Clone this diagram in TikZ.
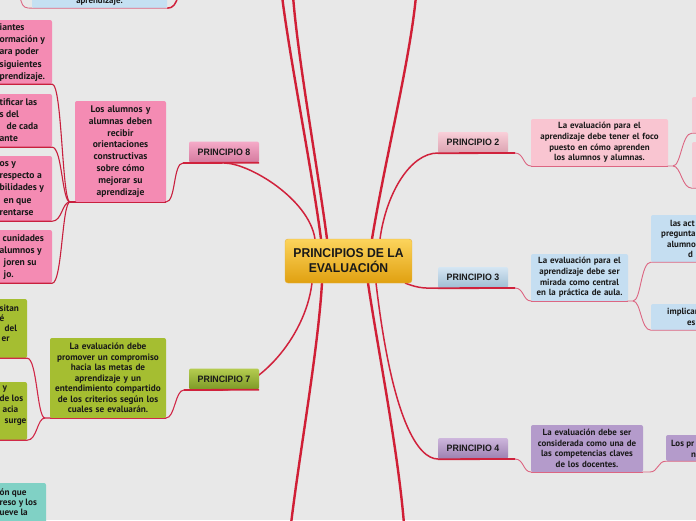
\documentclass[tikz,border=0pt]{standalone}
\usepackage{fontspec}
\setmainfont{PT Sans}
\newfontfamily\labfont[FakeStretch=0.95]{Liberation Sans}
\newfontfamily\ctrfont[FakeStretch=0.95]{Liberation Sans}
\usetikzlibrary{calc}
\definecolor{bgc}{HTML}{E8E8E8}
\definecolor{mainred}{HTML}{D01F36}
\definecolor{pred}{HTML}{D0223C}
\definecolor{red8}{HTML}{C8203E}
\definecolor{red7}{HTML}{D02848}
\definecolor{pinkln}{HTML}{DC6682}
\definecolor{fill8}{HTML}{F48BB3}
\definecolor{top8}{HTML}{F5AAC8}
\definecolor{bot8}{HTML}{D47A9E}
\definecolor{fill2}{HTML}{F9C5D1}
\definecolor{top2}{HTML}{F9CFD9}
\definecolor{bot2}{HTML}{DBA2B0}
\definecolor{fill3}{HTML}{C5DEF1}
\definecolor{top3}{HTML}{D5E6F3}
\definecolor{bot3}{HTML}{9FBDD3}
\definecolor{fill4}{HTML}{B49BCB}
\definecolor{top4}{HTML}{CDB6DC}
\definecolor{bot4}{HTML}{9C80B0}
\definecolor{fill7}{HTML}{A5BE31}
\definecolor{top7}{HTML}{B5CC50}
\definecolor{bot7}{HTML}{7C9926}
\definecolor{teal}{HTML}{80D1C5}
\definecolor{ltblue}{HTML}{C5E0F2}
\definecolor{ctrtop}{HTML}{FCD45C}
\definecolor{ctrbot}{HTML}{E0A010}
\tikzset{
  pbox/.style={rounded corners=2pt, inner sep=0pt, minimum width=70pt, minimum height=21pt,
    font=\labfont\bfseries\fontsize{9.3}{11}\selectfont, text=black!90},
  cbox/.style={rounded corners=2pt, inner sep=0pt, align=center,
    font=\bfseries\fontsize{8.9}{10.6}\selectfont, text=black!90},
  ebox/.style={rounded corners=2pt, inner sep=0pt},
  frag/.style={anchor=west, inner sep=0pt, align=left,
    font=\bfseries\fontsize{8.9}{10.6}\selectfont, text=black!90},
  mainln/.style={draw=mainred, line width=2.4pt},
  pln/.style={draw=pred, line width=1.5pt},
  uln/.style={draw=pred, line width=1.8pt},
  sln8/.style={draw=red8, line width=1.1pt},
  sln7/.style={draw=red7, line width=1.1pt},
  slnp/.style={draw=pinkln, line width=0.9pt},
}
\begin{document}
\begin{tikzpicture}[x=1pt,y=-1pt]
\useasboundingbox (0,0) rectangle (696,520);
\clip (0,0) rectangle (696,520);
\fill[bgc] (0,0) rectangle (696,520);

% ---------- coordinates ----------
\coordinate (a8) at (315,239);
\coordinate (aT1) at (321,239);
\coordinate (aT2) at (327,239);
\coordinate (aT4) at (372,239);
\coordinate (a2) at (380,239);
\coordinate (a7) at (312,283);
\coordinate (a6) at (322,283);
\coordinate (a5) at (368,283);
\coordinate (a4) at (376,283);
\coordinate (a3) at (405,283);
\coordinate (eT1) at (282,-4);
\coordinate (eT2) at (293,-4);
\coordinate (eT4) at (416,-4);
\coordinate (e6) at (291,524);
\coordinate (e5) at (404,524);
\coordinate (u8) at (183,163);
\coordinate (k8) at (70,202);
\coordinate (u7) at (184,390);
\coordinate (k7) at (45,418);
\coordinate (u2) at (515,153);
\coordinate (k2) at (673,166);
\coordinate (u3) at (515,288);
\coordinate (k3) at (633,301);
\coordinate (u4) at (515,459);
\coordinate (k4) at (650,472);
\coordinate (kTL) at (28,8);
\coordinate (eTL1) at (178,-4);
\coordinate (eTL2) at (20,-4);

% ---------- nodes (boxes) ----------
\node[ebox, fill=fill8] (bA) at (21,52) [minimum width=62pt, minimum height=64pt] {};
\node[ebox, fill=fill8] (bB) at (21,120.5) [minimum width=62pt, minimum height=53pt] {};
\node[ebox, fill=fill8] (bC) at (21,188.5) [minimum width=62pt, minimum height=65pt] {};
\node[ebox, fill=fill8] (bD) at (21,256.5) [minimum width=62pt, minimum height=53pt] {};
\node[ebox, fill=fill7] (bE) at (8.5,328.5) [minimum width=37pt, minimum height=59pt] {};
\node[ebox, fill=fill7] (bF) at (8.5,411) [minimum width=37pt, minimum height=58pt] {};
\node[ebox, fill=teal] (bG) at (18,511.5) [minimum width=56pt, minimum height=57pt] {};
\node[ebox, fill=ltblue] (bTL) at (99.5,-7) [minimum width=135pt, minimum height=30pt] {};
\node[ebox, fill=fill2] (r2a) at (702,115) [minimum width=20pt, minimum height=36pt] {};
\node[ebox, fill=fill2] (r2b) at (702,165) [minimum width=20pt, minimum height=46pt] {};
\node[ebox, fill=fill3] (r3a) at (681.5,238.5) [minimum width=61pt, minimum height=47pt] {};
\node[ebox, fill=fill3] (r3b) at (681.5,317) [minimum width=61pt, minimum height=26pt] {};
\node[ebox, fill=fill4] (r4a) at (689,448) [minimum width=46pt, minimum height=26pt] {};

% ---------- connectors ----------
\draw[mainln] (aT1) .. controls (312,170) and (290,60) .. (eT1);
\draw[mainln] (aT2) .. controls (318,170) and (298,60) .. (eT2);
\draw[mainln] (aT4) .. controls (385,160) and (410,60) .. (eT4);
\draw[mainln] (a6) .. controls (318,350) and (300,450) .. (e6);
\draw[mainln] (a5) .. controls (378,350) and (398,450) .. (e5);

% principle 8
\draw[pln] (a8) .. controls +(-6,-40) and +(25,0) .. (224,163);
\draw[sln8] (u8) .. controls +(-10,0) and +(10,0) .. (166,202);
\draw[sln8] (166,202) -- (k8);
\foreach \b in {bA,bB,bC,bD}{
  \draw[sln8] (k8) .. controls +(-8,0) and +(10,0) .. (\b.south east) -- (\b.south west);
}
% principle 7
\draw[pln] (a7) .. controls +(-7,57) and +(31,0) .. (224,390);
\draw[sln7] (u7) .. controls +(-9,0) and +(9,0) .. (166,418) -- (k7);
\foreach \b in {bE,bF}{
  \draw[sln7] (k7) .. controls +(-8,0) and +(10,0) .. (\b.south east) -- (\b.south west);
}
% principle 2
\draw[pln] (a2) .. controls +(6,-45) and +(-28,0) .. (438,153);
\draw[slnp] (u2) .. controls +(9,0) and +(-8,0) .. (531,166) -- (k2);
\foreach \b in {r2a,r2b}{
  \draw[slnp] (k2) .. controls +(8,0) and +(-10,0) .. (\b.south west) -- (\b.south east);
}
% principle 3
\draw[pln] (a3) .. controls +(15,6) and +(-12,0) .. (438,288);
\draw[slnp] (u3) .. controls +(9,0) and +(-8,0) .. (531,301) -- (k3);
\foreach \b in {r3a,r3b}{
  \draw[slnp] (k3) .. controls +(8,0) and +(-10,0) .. (\b.south west) -- (\b.south east);
}
% principle 4
\draw[pln] (a4) .. controls +(16,137) and +(-20,0) .. (438,459);
\draw[slnp] (u4) .. controls +(9,0) and +(-8,0) .. (531,472) -- (k4);
\draw[slnp] (k4) .. controls +(8,0) and +(-8,0) .. (r4a.south west) -- (r4a.south east);
% top-left box
\draw[slnp] (bTL.south east) -- (bTL.south west) -- (kTL) .. controls +(-5,0) and +(1,7) .. (eTL2);
\draw[pln] (bTL.south east) .. controls +(6,0) and +(-2,8) .. (eTL1);

% ---------- main nodes ----------
\node[cbox, fill=fill8, minimum width=91pt, minimum height=101pt, text width=89pt,
  font=\bfseries\fontsize{9.6}{11.8}\selectfont] (c8) at (120.5,151.5)
  {Los alumnos y\\alumnas deben\\recibir\\orientaciones\\constructivas\\sobre cómo\\mejorar su\\aprendizaje};
\node[cbox, fill=fill7, minimum width=116pt, minimum height=80pt, text width=115pt,
  font=\bfseries\fontsize{9.2}{10.5}\selectfont] (c7) at (108,378)
  {La evaluación debe\\promover un compromiso\\hacia las metas de\\aprendizaje y un\\entendimiento compartido\\de los criterios según los\\cuales se evaluarán.};
\node[cbox, fill=fill2, minimum width=137pt, minimum height=47pt, text width=135pt] (c2) at (599.5,142.5)
  {La evaluación para el\\aprendizaje debe tener el foco\\puesto en cómo aprenden\\los alumnos y alumnas.};
\node[cbox, fill=fill3, minimum width=97pt, minimum height=47pt, text width=96pt] (c3) at (579.5,277.5)
  {La evaluación para el\\aprendizaje debe ser\\mirada como central\\en la práctica de aula.};
\node[cbox, fill=fill4, minimum width=112pt, minimum height=47pt, text width=111pt] (c4) at (587,448.5)
  {La evaluación debe ser\\considerada como una de\\las competencias claves\\de los docentes.};

\node[pbox, top color=top8, bottom color=bot8] (p8) at (224,152) {PRINCIPIO 8};
\node[pbox, top color=top7, bottom color=bot7] (p7) at (224,379) {PRINCIPIO 7};
\node[pbox, top color=top2, bottom color=bot2] (p2) at (473,142.5) {PRINCIPIO 2};
\node[pbox, top color=top3, bottom color=bot3] (p3) at (473,277.5) {PRINCIPIO 3};
\node[pbox, top color=top4, bottom color=bot4] (p4) at (473,448.5) {PRINCIPIO 4};

\draw[uln] (p8.south east) -- (u8);
\draw[uln] (p7.south east) -- (u7);
\draw[uln] (p2.south west) -- (u2);
\draw[uln] (p3.south west) -- (u3);
\draw[uln] (p4.south west) -- (u4);
\draw[sln8] (c8.south east) -- (c8.south west);
\draw[sln7] (c7.south east) -- (c7.south west);
\draw[slnp] (c2.south west) -- (c2.south east);
\draw[slnp] (c3.south west) -- (c3.south east);
\draw[slnp] (c4.south west) -- (c4.south east);

\node[rounded corners=3pt, inner sep=0pt, minimum width=127pt, minimum height=44pt,
  top color=ctrtop, bottom color=ctrbot, draw=ctrbot!80!white, line width=0.4pt, align=center,
  font=\ctrfont\bfseries\fontsize{12.8}{15}\selectfont, text=black!90] (ctr) at (348.5,261)
  {PRINCIPIOS DE LA\\EVALUACIÓN};

% ---------- clipped text fragments ----------
\node[frag, font=\bfseries\fontsize{9.6}{12.2}\selectfont] (tA) at (-0.5,52.5)
  {iantes\\ormación y\\ara poder\\siguientes\\prendizaje.};
\node[frag, font=\bfseries\fontsize{9.6}{12}\selectfont] (tB) at (-0.5,120)
  {tificar las\\s del\\\hspace*{7pt}de cada\\ante};
\node[frag, font=\bfseries\fontsize{9.6}{12.2}\selectfont] (tC) at (-0.5,188.5)
  {os y\\respecto a\\bilidades y\\\hspace*{4pt}en que\\rentarse};
\node[frag, font=\bfseries\fontsize{9.6}{12}\selectfont] (tD) at (-0.5,257)
  {\hspace*{3pt}cunidades\\alumnos y\\\hspace*{4pt}joren su\\\hspace*{4pt}jo.};
\node[frag, font=\bfseries\fontsize{9.2}{10}\selectfont] (tE) at (-0.5,323)
  {sitan\\é\\\hspace*{5pt}del\\\hspace*{2pt}er};
\node[frag, font=\bfseries\fontsize{9.2}{11}\selectfont] (tF) at (-0.5,405.5)
  {\hspace*{3pt}y\\de los\\\hspace*{3pt}acia\\\hspace*{5pt}surge};
\node[frag, font=\bfseries\fontsize{9.2}{10}\selectfont] (tG) at (-0.5,502)
  {ón que\\reso y los\\ueve la};
\node[cbox, anchor=center] (tTL) at (99.5,1.5) {aprendizaje.};
\node[frag] (tR3a) at (661,239)
  {\hspace*{9pt}las act\\pregunta\\\hspace*{6pt}alumno\\\hspace*{27pt}d};
\node[frag] (tR3b) at (667,317) {implicar\\\hspace*{20pt}es};
\node[frag] (tR4) at (671,449) {Los pr\\\hspace*{20pt}nec};
\end{tikzpicture}
\end{document}
